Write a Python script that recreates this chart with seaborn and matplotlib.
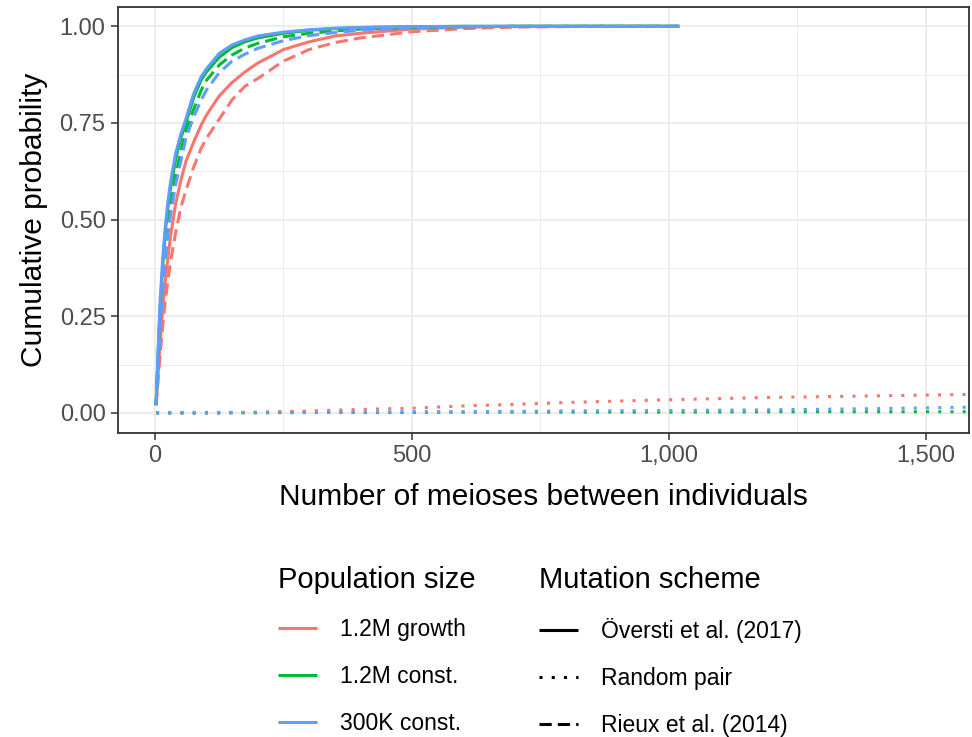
import numpy as np
import pandas as pd
import matplotlib
matplotlib.use("Agg")
import matplotlib.pyplot as plt
from matplotlib.lines import Line2D
from matplotlib.ticker import FuncFormatter, MultipleLocator
import seaborn as sns

# cumulative curves (Översti and Rieux schemes)
x_cdf = [2, 4, 6, 8, 10, 15, 20, 25, 30, 40, 50, 60, 75, 90, 100, 125, 150, 175,
         200, 250, 300, 350, 400, 500, 600, 700, 850, 1020]
growth_oversti = [0.02, 0.06, 0.10, 0.14, 0.18, 0.27, 0.34, 0.40, 0.455, 0.54, 0.60, 0.65, 0.70, 0.745,
                  0.77, 0.82, 0.855, 0.882, 0.905, 0.94, 0.96, 0.975, 0.982, 0.993, 0.998, 1.0, 1.0, 1.0]
growth_rieux = [0.02, 0.05, 0.085, 0.12, 0.15, 0.225, 0.29, 0.34, 0.39, 0.465, 0.53, 0.575, 0.635, 0.685,
                0.71, 0.76, 0.81, 0.845, 0.865, 0.91, 0.94, 0.958, 0.97, 0.986, 0.994, 0.998, 1.0, 1.0]
const12_oversti = [0.02, 0.085, 0.15, 0.215, 0.27, 0.38, 0.47, 0.53, 0.58, 0.655, 0.71, 0.75, 0.815, 0.862,
                   0.882, 0.92, 0.945, 0.96, 0.97, 0.982, 0.99, 0.994, 0.997, 0.999, 1.0, 1.0, 1.0, 1.0]
const12_rieux = [0.02, 0.075, 0.13, 0.185, 0.235, 0.34, 0.42, 0.485, 0.53, 0.615, 0.675, 0.73, 0.785, 0.835,
                 0.86, 0.90, 0.926, 0.944, 0.956, 0.973, 0.982, 0.988, 0.993, 0.997, 0.999, 1.0, 1.0, 1.0]
k300_oversti = [0.02, 0.09, 0.16, 0.23, 0.29, 0.40, 0.48, 0.545, 0.595, 0.67, 0.72, 0.76, 0.825, 0.87,
                0.89, 0.93, 0.952, 0.965, 0.975, 0.985, 0.991, 0.995, 0.997, 0.999, 1.0, 1.0, 1.0, 1.0]
k300_rieux = [0.02, 0.07, 0.12, 0.17, 0.215, 0.32, 0.40, 0.46, 0.51, 0.59, 0.65, 0.71, 0.765, 0.81,
              0.835, 0.88, 0.91, 0.928, 0.943, 0.963, 0.976, 0.984, 0.99, 0.996, 0.999, 1.0, 1.0, 1.0]

# random pair scheme
x_rand = [2, 100, 200, 300, 400, 500, 600, 700, 800, 1000, 1200, 1400, 1600]
growth_random = [0.0, 0.0, 0.002, 0.005, 0.009, 0.012, 0.018, 0.022, 0.027, 0.034, 0.040, 0.044, 0.048]
const12_random = [0.0, 0.0, 0.0, 0.001, 0.001, 0.001, 0.002, 0.002, 0.002, 0.002, 0.003, 0.003, 0.003]
k300_random = [0.0, 0.0, 0.001, 0.001, 0.002, 0.003, 0.003, 0.004, 0.005, 0.006, 0.008, 0.011, 0.015]

pops = ["1.2M growth", "1.2M const.", "300K const."]
schemes = ["Översti et al. (2017)", "Random pair", "Rieux et al. (2014)"]
colors = ["#F8766D", "#00BA38", "#619CFF"]

series = {
    ("1.2M growth", schemes[0]): (x_cdf, growth_oversti),
    ("1.2M growth", schemes[1]): (x_rand, growth_random),
    ("1.2M growth", schemes[2]): (x_cdf, growth_rieux),
    ("1.2M const.", schemes[0]): (x_cdf, const12_oversti),
    ("1.2M const.", schemes[1]): (x_rand, const12_random),
    ("1.2M const.", schemes[2]): (x_cdf, const12_rieux),
    ("300K const.", schemes[0]): (x_cdf, k300_oversti),
    ("300K const.", schemes[1]): (x_rand, k300_random),
    ("300K const.", schemes[2]): (x_cdf, k300_rieux),
}
rows = []
for (pop, sch), (xs, ys) in series.items():
    for xv, yv in zip(xs, ys):
        rows.append({"meioses": xv, "prob": yv, "pop": pop, "scheme": sch})
df = pd.DataFrame(rows)

sns.set_theme(style="white")
plt.rcParams["font.family"] = ["Liberation Sans", "DejaVu Sans"]

fig = plt.figure(figsize=(9.72, 7.37), dpi=100)
ax = fig.add_axes([0.1214, 0.4125, 0.8756, 0.578])

dash_map = {schemes[0]: "", schemes[1]: (1, 3), schemes[2]: (4, 2)}
lw = 2.2
sns.lineplot(data=df, x="meioses", y="prob", hue="pop", style="scheme",
             hue_order=pops, style_order=schemes, palette=colors,
             dashes=dash_map, linewidth=lw, legend=False, errorbar=None,
             ax=ax)
for ln in ax.get_lines():
    ln.set_solid_capstyle("butt")
    ln.set_dash_capstyle("butt")
    ln.set_solid_joinstyle("round")

ax.set_xlim(-72, 1584)
ax.set_ylim(-0.052, 1.05)
ax.xaxis.set_major_locator(MultipleLocator(500))
ax.xaxis.set_minor_locator(MultipleLocator(250))
ax.yaxis.set_major_locator(MultipleLocator(0.25))
ax.yaxis.set_minor_locator(MultipleLocator(0.125))
ax.xaxis.set_major_formatter(FuncFormatter(lambda v, p: f"{int(v):,}"))
ax.yaxis.set_major_formatter(FuncFormatter(lambda v, p: f"{v:.2f}"))
ax.grid(which="major", color="#EBEBEB", linewidth=1.3)
ax.grid(which="minor", color="#EBEBEB", linewidth=0.7)
ax.set_axisbelow(True)
for s in ax.spines.values():
    s.set_color("#333333")
    s.set_linewidth(1.3)
ax.tick_params(which="major", direction="out", length=5, width=1.1, color="#333333",
               labelsize=17, labelcolor="#4D4D4D", pad=4, bottom=True, left=True)
ax.tick_params(which="minor", length=0)
ax.set_xlabel("Number of meioses between individuals", fontsize=21.5, color="black", labelpad=11)
ax.set_ylabel("Cumulative probability", fontsize=21.5, color="black", labelpad=8)

pop_handles = [Line2D([], [], color=c, lw=lw, solid_capstyle="butt") for c in colors]
sch_handles = [Line2D([], [], color="black", lw=lw, linestyle=ls, dash_capstyle="butt", solid_capstyle="butt")
               for ls in ["-", (0, (1, 3)), (0, (4, 2))]]
leg_kw = dict(frameon=False, fontsize=16.5, title_fontsize=21, handlelength=1.7,
              handletextpad=0.98, labelspacing=1.04, alignment="left", borderaxespad=0)
leg1 = fig.legend(pop_handles, pops, title="Population size", loc="upper left",
                  bbox_to_anchor=(269 / 972, 1 - 557 / 737), **leg_kw)
leg2 = fig.legend(sch_handles, schemes, title="Mutation scheme", loc="upper left",
                  bbox_to_anchor=(530 / 972, 1 - 557 / 737), **leg_kw)
for lg in (leg1, leg2):
    lg.get_title().set_color("black")
    for t in lg.get_texts():
        t.set_color("black")

fig.savefig("out.png", dpi=100)
